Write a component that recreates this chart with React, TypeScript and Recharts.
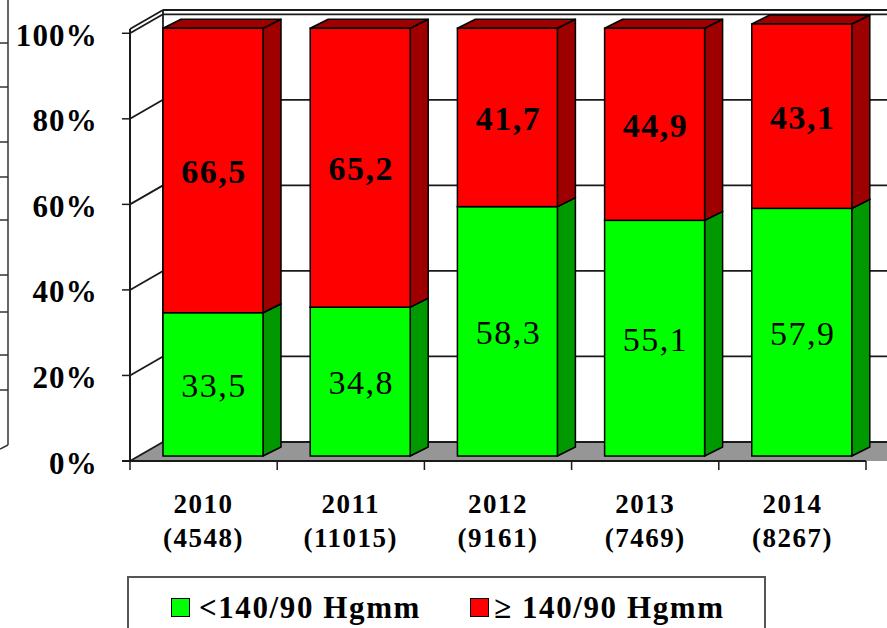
import { BarChart, Bar, XAxis, YAxis, CartesianGrid, Legend, LabelList } from 'recharts';

const years = ['2010', '2011', '2012', '2013', '2014'];
const counts = ['4548', '11015', '9161', '7469', '8267'];
const normalBp = [33.5, 34.8, 58.3, 55.1, 57.9];
const highBp = [66.5, 65.2, 41.7, 44.9, 43.1];
const yTicks = [0, 20, 40, 60, 80, 100];

const data = years.map((year, i) => ({
    year,
    n: counts[i],
    normal: normalBp[i],
    high: highBp[i],
}));

const W = 887;
const H = 628;
const MARGIN = { top: 29, right: 21, left: 0, bottom: 0 };
const Y_W = 130;
const X_H = H - 461;

// fake 3D offsets (Excel look)
const BAR_DX = 9;
const BAR_DY = -5;
const DEPTH_X = 18;
const DEPTH_Y = -9;
const WALL_X = 33;
const WALL_Y = -19;

const FONT = '"Liberation Serif", "Times New Roman", serif';
const LINE = '#1a1a1a';

// stray frame of the neighbouring slide, cut at the left edge
const edgeTicks = [43, 87, 142, 177, 220, 275, 312, 355, 390];

function Prism(props: any) {
    const { x, y, width, height, front, side } = props;
    if (!height) return null;
    const fx = x + BAR_DX;
    const fy = y + BAR_DY;
    const rx = fx + width;
    const sidePts = `${rx},${fy} ${rx + DEPTH_X},${fy + DEPTH_Y} ${rx + DEPTH_X},${fy + height + DEPTH_Y} ${rx},${fy + height}`;
    const topPts = `${fx},${fy} ${fx + DEPTH_X},${fy + DEPTH_Y} ${rx + DEPTH_X},${fy + DEPTH_Y} ${rx},${fy}`;
    return (
        <g>
            <polygon points={sidePts} fill={side} stroke="#000" strokeWidth={1.5} strokeLinejoin="round" />
            <polygon points={topPts} fill={side} stroke="#000" strokeWidth={1.5} strokeLinejoin="round" />
            <rect x={fx} y={fy} width={width} height={height} fill={front} stroke="#000" strokeWidth={1.5} />
        </g>
    );
}

function valueLabel(bold: boolean) {
    return (p: any) => {
        const { x, y, width, height, value } = p;
        return (
            <text
                x={x + width / 2 + BAR_DX + 1}
                y={y + height / 2 + BAR_DY + 1}
                textAnchor="middle"
                dominantBaseline="central"
                fontFamily={FONT}
                fontSize={34}
                fontWeight={bold ? 'bold' : 'normal'}
                letterSpacing={1.5}
                fill="#000"
            >
                {Number(value).toFixed(1).replace('.', ',')}
            </text>
        );
    };
}

function WallLine(p: any) {
    const { x1, y1, x, y, width, height } = p;
    const bx = x1 + WALL_X;
    const by = y1 + WALL_Y;
    const isFloor = Math.abs(y1 - (y + height)) < 1;
    const band = width / years.length;
    return (
        <g>
            {isFloor && (
                <>
                    <polygon
                        points={`${x},${y1} ${W + 40},${y1} ${W + 40 + WALL_X},${by} ${bx},${by}`}
                        fill="#969696"
                        stroke="none"
                    />
                    <line x1={bx} y1={y + WALL_Y} x2={bx} y2={y + height + WALL_Y} stroke={LINE} strokeWidth={1.8} />
                    {[0, 1, 2, 3, 4, 5].map((k) => (
                        <line
                            key={k}
                            x1={x + k * band}
                            y1={y1}
                            x2={x + k * band}
                            y2={y1 + 9}
                            stroke={LINE}
                            strokeWidth={1.5}
                        />
                    ))}
                    <line x1={x - 8} y1={y1} x2={x + width} y2={y1} stroke={LINE} strokeWidth={2} />
                </>
            )}
            <line x1={x1} y1={y1} x2={bx} y2={by} stroke={LINE} strokeWidth={1.8} />
            <line x1={bx} y1={by} x2={W} y2={by} stroke={LINE} strokeWidth={1.8} />
        </g>
    );
}

function YTick(p: any) {
    const { x, y, payload } = p;
    return (
        <text
            x={x}
            y={y + 2}
            textAnchor="end"
            dominantBaseline="central"
            fontFamily={FONT}
            fontSize={31}
            fontWeight="bold"
            letterSpacing={1.2}
            fill="#000"
        >
            {payload.value}%
        </text>
    );
}

function XTick(p: any) {
    const { x, y, payload, index } = p;
    return (
        <g>
            <text x={x} y={y + 52} textAnchor="middle" fontFamily={FONT} fontSize={27} fontWeight="bold" letterSpacing={1.5} fill="#000">
                {payload.value}
            </text>
            <text x={x} y={y + 86} textAnchor="middle" fontFamily={FONT} fontSize={27} fontWeight="bold" letterSpacing={1.5} fill="#000">
                ({counts[index]})
            </text>
        </g>
    );
}

function LegendBox({ payload }: any) {
    return (
        <div
            style={{
                position: 'relative',
                width: 639,
                height: 64,
                border: '2px solid #555',
                boxSizing: 'border-box',
                background: '#fff',
            }}
        >
            {(payload || []).map((item: any, i: number) => (
                <div
                    key={item.value}
                    style={{
                        position: 'absolute',
                        left: i === 0 ? 42 : 341,
                        top: 14,
                        display: 'flex',
                        alignItems: 'center',
                        whiteSpace: 'nowrap',
                    }}
                >
                    <span
                        style={{
                            display: 'inline-block',
                            width: 19,
                            height: 19,
                            background: item.color,
                            border: '1.5px solid #000',
                            boxSizing: 'border-box',
                            marginRight: i === 0 ? 9 : 5,
                        }}
                    />
                    <span
                        style={{
                            fontFamily: FONT,
                            fontSize: 31,
                            fontWeight: 'bold',
                            letterSpacing: 1.6,
                            lineHeight: '31px',
                            color: '#000',
                        }}
                    >
                        {item.value}
                    </span>
                </div>
            ))}
        </div>
    );
}

export default function App() {
    return (
        <div style={{ position: 'absolute', left: 0, top: 0, width: W, height: H, overflow: 'hidden', background: '#fff' }}>
            <svg width={10} height={460} style={{ position: 'absolute', left: 0, top: 0 }}>
                <line x1={8} y1={0} x2={8} y2={445} stroke="#333" strokeWidth={1.5} />
                {edgeTicks.map((t) => (
                    <line key={t} x1={0} y1={t} x2={8} y2={t} stroke="#333" strokeWidth={1.5} />
                ))}
                <line x1={0} y1={449} x2={8} y2={445} stroke="#333" strokeWidth={1.5} />
            </svg>
            <BarChart width={W} height={H} data={data} margin={MARGIN} barSize={100}>
                <CartesianGrid vertical={false} horizontal={(p: any) => <WallLine key={p.key} {...p} />} />
                <XAxis
                    dataKey="year"
                    height={X_H}
                    interval={0}
                    axisLine={false}
                    tickLine={false}
                    tickSize={0}
                    tickMargin={0}
                    tick={XTick}
                />
                <YAxis
                    type="number"
                    domain={[0, 100]}
                    ticks={yTicks}
                    interval={0}
                    width={Y_W}
                    axisLine={{ stroke: LINE, strokeWidth: 2 }}
                    tickLine={{ stroke: LINE, strokeWidth: 1.5 }}
                    tickSize={8}
                    tickMargin={24}
                    tick={YTick}
                />
                <Legend
                    layout="horizontal"
                    verticalAlign="middle"
                    align="center"
                    wrapperStyle={{ left: 127, top: 576, width: 639, height: 64 }}
                    content={LegendBox}
                />
                <Bar
                    dataKey="normal"
                    name="<140/90 Hgmm"
                    stackId="a"
                    fill="#00ff00"
                    isAnimationActive={false}
                    shape={(p: any) => <Prism {...p} front="#00ff00" side="#009a00" />}
                >
                    <LabelList dataKey="normal" content={valueLabel(false)} />
                </Bar>
                <Bar
                    dataKey="high"
                    name="≥ 140/90 Hgmm"
                    stackId="a"
                    fill="#ff0000"
                    isAnimationActive={false}
                    shape={(p: any) => <Prism {...p} front="#ff0000" side="#9e0000" />}
                >
                    <LabelList dataKey="high" content={valueLabel(true)} />
                </Bar>
            </BarChart>
        </div>
    );
}
